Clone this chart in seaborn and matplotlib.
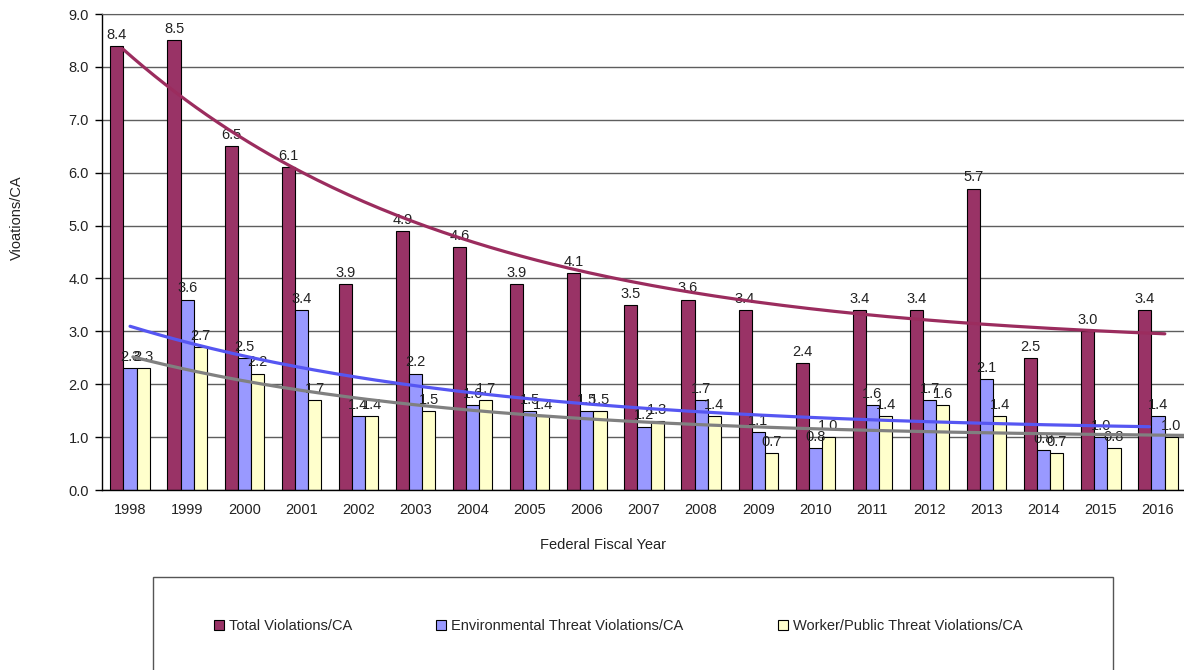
import numpy as np
import pandas as pd
import matplotlib
matplotlib.use("Agg")
import matplotlib.pyplot as plt
import seaborn as sns
from matplotlib.patches import Rectangle, Patch

# ---------------- data ----------------
years = [str(y) for y in range(1998, 2017)]
total = [8.4, 8.5, 6.5, 6.1, 3.9, 4.9, 4.6, 3.9, 4.1, 3.5, 3.6, 3.4, 2.4, 3.4, 3.4, 5.7, 2.5, 3.0, 3.4]
env = [2.3, 3.6, 2.5, 3.4, 1.4, 2.2, 1.6, 1.5, 1.5, 1.2, 1.7, 1.1, 0.8, 1.6, 1.7, 2.1, 0.75, 1.0, 1.4]
worker = [2.3, 2.7, 2.2, 1.7, 1.4, 1.5, 1.7, 1.4, 1.5, 1.3, 1.4, 0.7, 1.0, 1.4, 1.6, 1.4, 0.7, 0.8, 1.0]
series_names = ["Total Violations/CA",
                "Environmental Threat Violations/CA",
                "Worker/Public Threat Violations/CA"]
y_ticks = [0.0, 1.0, 2.0, 3.0, 4.0, 5.0, 6.0, 7.0, 8.0, 9.0]

# ---------------- style ----------------
bar_colors = ["#993366", "#9999FF", "#FFFFCC"]
trend_colors = ["#9B2C5E", "#5656F2", "#808080"]
trend_span = [(-0.12, 18.12), (0.0, 17.85), (0.05, 18.6)]
trend_rate = [0.17, None, None]   # None -> decay rate fitted too

sns.set_style("white")
plt.rcParams["font.family"] = ["Liberation Sans", "DejaVu Sans"]

df = pd.DataFrame({
    "year": years * 3,
    "value": total + env + worker,
    "series": [series_names[0]] * len(years) + [series_names[1]] * len(years) + [series_names[2]] * len(years),
})


def fit_decay(vals, rate=None):
    """Least-squares fit of y = c + A*exp(-k*t) to the series."""
    t = np.arange(len(vals), dtype=float)
    y = np.asarray(vals, dtype=float)
    best = None
    ks = [rate] if rate is not None else np.linspace(0.02, 1.5, 400)
    for k in ks:
        X = np.column_stack([np.ones_like(t), np.exp(-k * t)])
        coef, *_ = np.linalg.lstsq(X, y, rcond=None)
        sse = np.sum((X @ coef - y) ** 2)
        if best is None or sse < best[0]:
            best = (sse, k, coef)
    _, k, (c, A) = best
    return lambda tt: c + A * np.exp(-k * tt)


W, H = 1184, 670
fig = plt.figure(figsize=(W / 100, H / 100), dpi=100)
ax_l, ax_r, ax_t, ax_b = 101.5, 1186.5, 14, 490
ax = fig.add_axes([ax_l / W, 1 - ax_b / H, (ax_r - ax_l) / W, (ax_b - ax_t) / H])

sns.barplot(data=df, x="year", y="value", hue="series", hue_order=series_names,
            palette=bar_colors, width=0.69, saturation=1, edgecolor="black",
            linewidth=0.8, ax=ax, legend=False, errorbar=None)

for c in ax.containers:
    ax.bar_label(c, fmt="%.1f", padding=3, fontsize=10.5, color="#222222")

# trendlines fitted to each series
for vals, col, (s, e), r in zip([total, env, worker], trend_colors, trend_span, trend_rate):
    f = fit_decay(vals, r)
    xs = np.linspace(s, e, 200)
    sns.lineplot(x=xs, y=f(xs), color=col, lw=2.3, ax=ax, zorder=5)

ax.set_xlim(-0.5, len(years) - 0.5)
ax.set_ylim(0, 9)
ax.set_yticks(y_ticks)
ax.set_yticklabels([f"{v:.1f}" for v in y_ticks], fontsize=10.5, color="#222222")
ax.yaxis.grid(True, color="#5e5e5e", lw=1)
ax.set_axisbelow(True)
for lab in ax.get_xticklabels():
    lab.set_fontsize(10.5)
    lab.set_color("#222222")
ax.tick_params(axis="x", which="major", length=0, pad=9)
ax.set_xticks(np.arange(len(years) + 1) - 0.5, minor=True)
ax.tick_params(axis="x", which="minor", length=5, direction="out", color="black", width=1)
ax.tick_params(axis="y", length=5, direction="out", color="black", width=1, pad=4, left=True)

for side in ["left", "bottom"]:
    ax.spines[side].set_color("black")
    ax.spines[side].set_linewidth(1)
ax.spines["top"].set_color("#5e5e5e")
ax.spines["right"].set_visible(False)

ax.set_xlabel("Federal Fiscal Year", fontsize=10.5, color="#222222")
ax.set_ylabel("Vioations/CA", fontsize=10.5, color="#222222")
ax.xaxis.set_label_coords((603 - ax_l) / (ax_r - ax_l), -(545 - ax_b) / (ax_b - ax_t))
ax.yaxis.set_label_coords((17 - ax_l) / (ax_r - ax_l), (ax_b - 218) / (ax_b - ax_t))
ax.xaxis.label.set_va("center")
ax.yaxis.label.set_va("center")

# legend box
fig.patches.append(Rectangle((153 / W, 1 - 700 / H), (1113 - 153) / W, (700 - 577) / H,
                             transform=fig.transFigure, fill=False, edgecolor="#555555", lw=1))
legend_x = [214, 436, 778]
for name, col, lx in zip(series_names, bar_colors, legend_x):
    h = Patch(facecolor=col, edgecolor="black", lw=0.8)
    fig.legend([h], [name], loc="center left", bbox_to_anchor=(lx / W, 1 - 626 / H),
               frameon=False, fontsize=10.5, handlelength=0.7, handleheight=0.7,
               handletextpad=0.3, borderpad=0, borderaxespad=0)

fig.savefig("out.png", dpi=100)
